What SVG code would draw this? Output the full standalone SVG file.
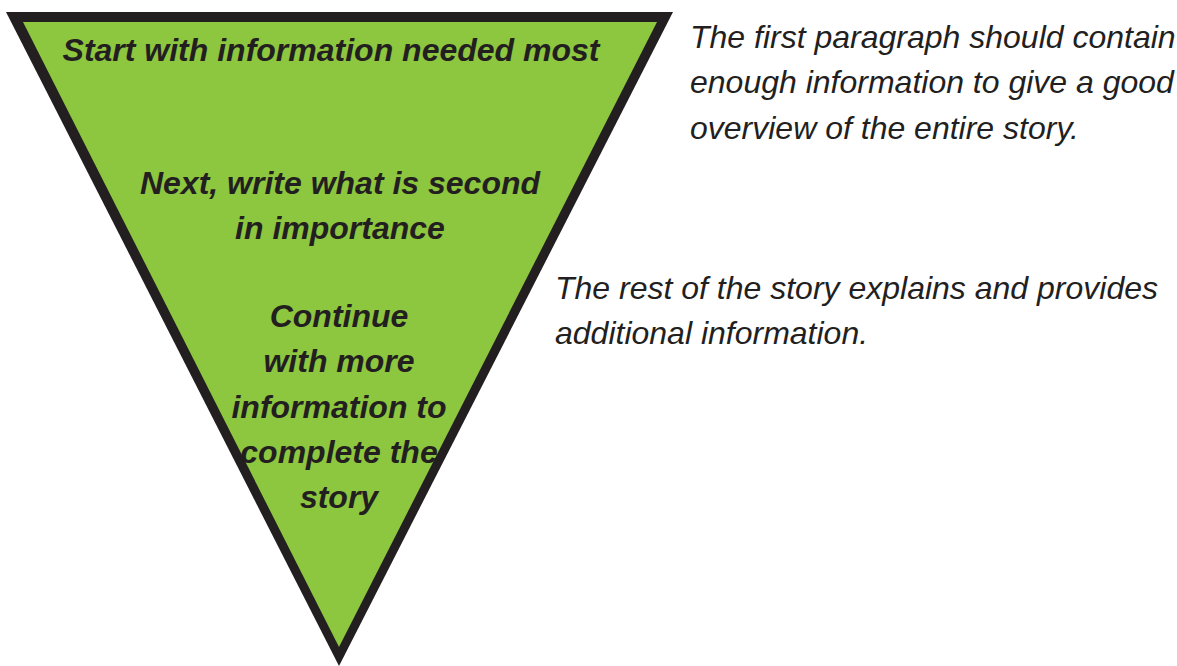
<svg xmlns="http://www.w3.org/2000/svg" width="1177" height="666" viewBox="0 0 1177 666">
<style>
.b{font-family:"Liberation Sans",Arial,sans-serif;font-weight:bold;font-style:italic;font-size:32px;fill:#231f20;text-anchor:middle}
.n{font-family:"Liberation Sans",Arial,sans-serif;font-style:italic;font-size:32px;fill:#231f20}
</style>
<rect width="1177" height="666" fill="#ffffff"/>
<g id="triangle">
<polygon points="6,12 673,12 339,666" fill="#231f20"/>
<polygon points="23,22 657,22 339,647" fill="#8dc63f"/>
</g>
<g id="level1">
<text class="b" x="331" y="61">Start with information needed most</text>
</g>
<g id="level2">
<text class="b" x="340" y="194">Next, write what is second</text>
<text class="b" x="340" y="239">in importance</text>
</g>
<g id="level3">
<text class="b" x="339" y="327">Continue</text>
<text class="b" x="339" y="372">with more</text>
<text class="b" x="339" y="418">information to</text>
<text class="b" x="339" y="463">complete the</text>
<text class="b" x="339" y="508">story</text>
</g>
<g id="note1">
<text class="n" x="690" y="48">The first paragraph should contain</text>
<text class="n" x="690" y="93">enough information to give a good</text>
<text class="n" x="690" y="139">overview of the entire story.</text>
</g>
<g id="note2">
<text class="n" x="555" y="299">The rest of the story explains and provides</text>
<text class="n" x="555" y="344">additional information.</text>
</g>
<g id="connectors"/>
</svg>
